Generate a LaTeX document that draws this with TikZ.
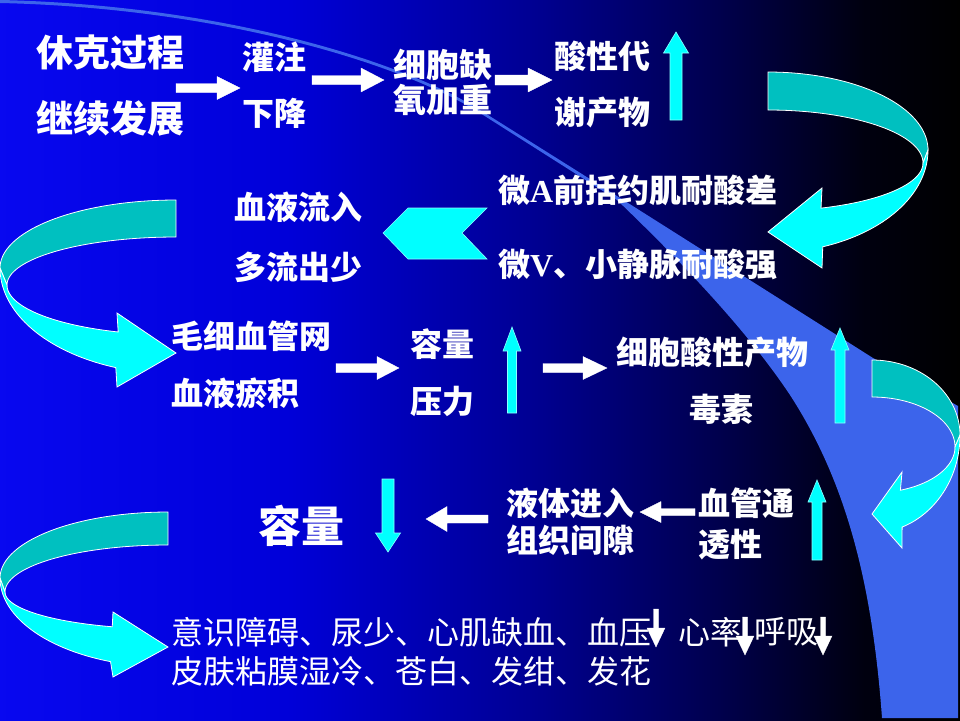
\documentclass[tikz,border=0pt]{standalone}
\usepackage{fontspec}
\newfontfamily\cjk{Noto Sans CJK SC}
\newfontfamily\tnr{Liberation Serif}
\definecolor{cyc}{RGB}{0,255,255}
\definecolor{tealc}{RGB}{0,192,192}
\definecolor{swooshc}{RGB}{60,100,235}
\pgfdeclarehorizontalshading{bgshade}{100bp}{rgb(0bp)=(0.03,0.03,0.94); rgb(25bp)=(0.03,0.03,0.94); rgb(40bp)=(0,0,0.85); rgb(52.5bp)=(0,0,0.58); rgb(62.5bp)=(0,0,0.30); rgb(70bp)=(0,0,0.06); rgb(75bp)=(0,0,0); rgb(100bp)=(0,0,0)}
\newcommand\hblock[7]{\filldraw[#1] (#2,{#5-#6}) -- (#3,{#5-#6}) -- (#3,{#5-#7}) -- (#4,#5) -- (#3,{#5+#7}) -- (#3,{#5+#6}) -- (#2,{#5+#6}) -- cycle;}
\newcommand\vblock[7]{\filldraw[#1] ({#2-#6},#3) -- ({#2-#6},#4) -- ({#2-#7},#4) -- (#2,#5) -- ({#2+#7},#4) -- ({#2+#6},#4) -- ({#2+#6},#3) -- cycle;}
\tikzset{
  boldlab/.style={text=white, inner sep=0pt, font=\cjk\bfseries\fontsize{32}{32}\selectfont},
  biglab/.style={boldlab, font=\cjk\bfseries\fontsize{37}{37}\selectfont},
  plainlab/.style={text=white, inner sep=0pt, font=\cjk\fontsize{32}{32}\selectfont},
  wa/.style={fill=white, draw=white, line width=0.3pt},
  ca/.style={fill=cyc, draw=white!55!cyc, line width=0.6pt},
  backband/.style={fill=tealc, draw=white, line width=0.8pt},
  frontband/.style={fill=cyc, draw=white, line width=0.8pt},
}
\begin{document}
\begin{tikzpicture}[x=1pt,y=-1pt]
\useasboundingbox (0,0) rectangle (960,720);
% background
\shade[shading=bgshade] (0,0) rectangle (960,720);
\fill[swooshc] (0,0) .. controls (220,5) and (400,60) .. (480,110) -- (617,196) -- (873,358) -- (958,406) -- (958,718) -- (882,718)
  .. controls (872,580) and (845,480) .. (790,395)
  .. controls (750,335) and (690,270) .. (617,200) -- (480,113) .. controls (400,63) and (220,8) .. (0,3) -- cycle;

% curved arrow A (top right)
\filldraw[backband] plot[domain=90:0,samples=40] ({768+160*cos(\x)},{150-78*sin(\x)}) -- plot[domain=0:90,samples=40] ({768+155*cos(\x)},{163-53*sin(\x)}) -- cycle;
\filldraw[frontband] plot[domain=0:-70,samples=40] ({768+160*cos(\x)},{150-103*sin(\x)}) -- (822,268) -- (768,232) -- (822,188) -- plot[domain=-70:0,samples=40] ({768+155*cos(\x)},{163-48*sin(\x)}) -- cycle;
% curved arrow B (left middle)
\filldraw[backband] plot[domain=90:0,samples=40] ({176-176*cos(\x)},{268-68*sin(\x)}) -- plot[domain=0:90,samples=40] ({176-169*cos(\x)},{285-48*sin(\x)}) -- cycle;
\filldraw[frontband] plot[domain=0:-70,samples=40] ({176-176*cos(\x)},{268-106*sin(\x)}) -- (117,387) -- (176,353) -- (117,313) -- plot[domain=-70:0,samples=40] ({176-169*cos(\x)},{285-50*sin(\x)}) -- cycle;
% curved arrow C (right middle)
\filldraw[backband] plot[domain=90:0,samples=40] ({872+88*cos(\x)},{435-75*sin(\x)}) -- plot[domain=0:90,samples=40] ({872+83*cos(\x)},{447-50*sin(\x)}) -- cycle;
\filldraw[frontband] plot[domain=0:-70,samples=40] ({872+88*cos(\x)},{435-98*sin(\x)}) -- (902,548) -- (872,514) -- (902,472) -- plot[domain=-70:0,samples=40] ({872+83*cos(\x)},{447-46*sin(\x)}) -- cycle;
% curved arrow D (bottom left)
\filldraw[backband] plot[domain=90:0,samples=40] ({168-168*cos(\x)},{578-66*sin(\x)}) -- plot[domain=0:90,samples=40] ({168-163*cos(\x)},{592-47*sin(\x)}) -- cycle;
\filldraw[frontband] plot[domain=0:-70,samples=40] ({168-168*cos(\x)},{578-89*sin(\x)}) -- (113,677) -- (168,647) -- (113,612) -- plot[domain=-70:0,samples=40] ({168-163*cos(\x)},{592-37*sin(\x)}) -- cycle;

% chevron
\filldraw[ca] (383,233) -- (408,208) -- (487,208) -- (462,233) -- (487,259) -- (408,259) -- cycle;

% texts
\node[biglab] (t1) at (110,52) {休克过程};
\node[biglab] (t2) at (110,118) {继续发展};
\node[boldlab] (t3) at (274,57) {灌注};
\node[boldlab] (t4) at (274,113) {下降};
\node[boldlab, font=\cjk\bfseries\fontsize{33}{33}\selectfont] (t5) at (443,65) {细胞缺};
\node[boldlab, font=\cjk\bfseries\fontsize{33}{33}\selectfont] (t6) at (443,100) {氧加重};
\node[boldlab] (t7) at (602,56) {酸性代};
\node[boldlab] (t8) at (602,112) {谢产物};
\node[boldlab, anchor=west] (t9) at (498,190) {微{\tnr\bfseries A}前括约肌耐酸差};
\node[boldlab, anchor=west] (t10) at (498,264) {微{\tnr\bfseries V}、小静脉耐酸强};
\node[boldlab] (t11) at (298,207) {血液流入};
\node[boldlab] (t12) at (298,267) {多流出少};
\node[boldlab, anchor=west] (t13) at (171,336) {毛细血管网};
\node[boldlab, anchor=west] (t14) at (171,393) {血液瘀积};
\node[boldlab] (t15) at (442,344) {容量};
\node[boldlab] (t16) at (442,401) {压力};
\node[boldlab] (t17) at (712,352) {细胞酸性产物};
\node[boldlab] (t18) at (721,409) {毒素};
\node[boldlab] (t19) at (570,503) {液体进入};
\node[boldlab] (t20) at (570,540) {组织间隙};
\node[boldlab, anchor=west] (t21) at (698,503) {血管通};
\node[boldlab, anchor=west] (t22) at (698,545) {透性};
\node[boldlab, font=\cjk\bfseries\fontsize{43}{43}\selectfont] (t23) at (301,526) {容量};
\node[plainlab, anchor=west] (b1) at (171,632) {意识障碍、尿少、心肌缺血、血压};
\node[plainlab, anchor=west] (b2) at (678,632) {心率};
\node[plainlab, anchor=west] (b3) at (754,632) {呼吸};
\node[plainlab, anchor=west] (b4) at (171,671) {皮肤粘膜湿冷、苍白、发绀、发花};

% white block arrows
\hblock{wa}{176}{217}{240}{88}{4.5}{11.5}
\hblock{wa}{312}{361}{384}{80}{4.5}{12}
\hblock{wa}{495}{528}{552}{80}{5}{12}
\hblock{wa}{336}{377}{399}{368}{4.5}{11.5}
\hblock{wa}{543}{583}{607}{368}{4.5}{11.5}
\hblock{wa}{695}{661}{640}{512}{3.5}{10.5}
\hblock{wa}{488}{447}{426}{519}{4}{12.5}
% cyan up/down arrows
\vblock{ca}{676}{120}{53}{32}{6}{12.5}
\vblock{ca}{512}{413}{351}{327}{4.5}{9}
\vblock{ca}{840}{423}{350}{328}{5}{9}
\vblock{ca}{817}{560}{502}{480}{5}{9}
\vblock{ca}{388}{479}{533}{552}{6}{12.5}
% small white down arrows
\vblock{wa}{656}{609}{628}{647}{2.5}{9}
\vblock{wa}{745}{617}{636}{655}{2.5}{9}
\vblock{wa}{823}{617}{636}{655}{2.5}{9}
\end{tikzpicture}
\end{document}
